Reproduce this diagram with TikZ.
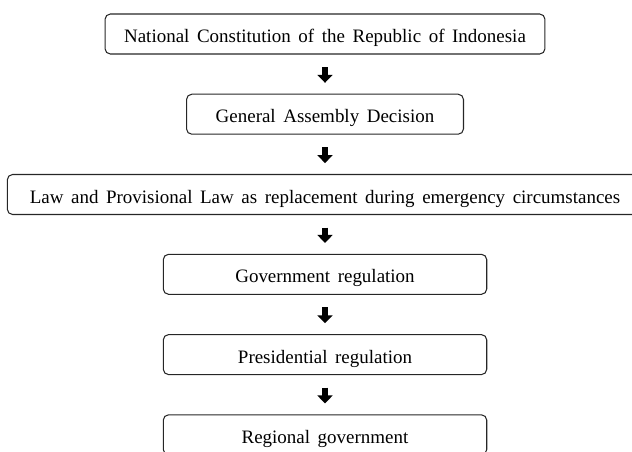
\documentclass[tikz,border=0pt]{standalone}
\usepackage{fontspec}
\setmainfont{Liberation Serif}[WordSpace=1.6]
\usetikzlibrary{arrows.meta}

\begin{document}
\begin{tikzpicture}[x=0.02cm, y=-0.02cm,
  every node/.style={font=\fontsize{10.8}{13}\selectfont},
  box/.style={draw=black!85, line width=0.6pt, rounded corners=3pt, inner sep=0pt,
              minimum height=0.8cm, text height=9.8pt, text depth=0pt},
  flow/.style={line width=3.4pt, -{Triangle[width=8.5pt, length=4.5pt]},
               shorten <=7.1pt, shorten >=6.2pt}]

  \useasboundingbox (0,0) rectangle (632,451);
  \clip (0,0) rectangle (632,451);

  % ---- Hierarchy, top to bottom ----
  \node[box, minimum width=8.8cm]   (const) at (325, 34.0)
    {National Constitution of the Republic of Indonesia};
  \node[box, minimum width=5.54cm]  (assem) at (325, 114.2)
    {General Assembly Decision};
  \node[box, minimum width=12.71cm] (law)   at (325, 194.5)
    {Law and Provisional Law as replacement during emergency circumstances};
  \node[box, minimum width=6.47cm]  (gov)   at (325, 274.3)
    {Government regulation};
  \node[box, minimum width=6.47cm]  (pres)  at (325, 354.6)
    {Presidential regulation};
  \node[box, minimum width=6.47cm]  (reg)   at (325, 434.8)
    {Regional government};

  % ---- Block arrows between levels ----
  \draw[flow] (const) -- (assem);
  \draw[flow] (assem) -- (law);
  \draw[flow] (law)   -- (gov);
  \draw[flow] (gov)   -- (pres);
  \draw[flow] (pres)  -- (reg);
\end{tikzpicture}
\end{document}
